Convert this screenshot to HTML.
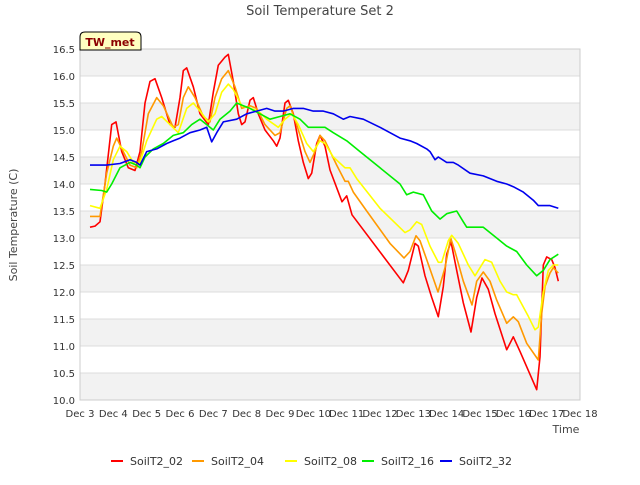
<!DOCTYPE html>
<html><head><meta charset="utf-8"><style>
body{margin:0;background:#fff;font-family:"Liberation Sans","DejaVu Sans",sans-serif}
svg text{font-family:"DejaVu Sans","Liberation Sans",sans-serif}
</style></head><body>
<svg id="chart" width="640" height="480" viewBox="0 0 640 480" xmlns="http://www.w3.org/2000/svg">
<rect width="640" height="480" fill="#fff"/>
<text x="320" y="15" text-anchor="middle" font-size="13" fill="#444">Soil Temperature Set 2</text>
<g id="plot"></g>
<text transform="translate(17,225) rotate(-90)" text-anchor="middle" font-size="11" fill="#444">Soil Temperature (C)</text>
<text x="566" y="433" text-anchor="middle" font-size="11" fill="#444">Time</text>
<g>
<path d="M80,50 L80,37 Q80,32 85,32 L136,32 Q141,32 141,37 L141,50 Z" fill="#ffffc0" stroke="#000" stroke-width="1"/>
<text x="110" y="46" text-anchor="middle" font-size="11" font-weight="bold" fill="#8b0000">TW_met</text>
</g>
<g id="legend"></g>
</svg>
<script>
const yTicks=[10.0,10.5,11.0,11.5,12.0,12.5,13.0,13.5,14.0,14.5,15.0,15.5,16.0,16.5];
const xTickLabels=["Dec 3","Dec 4","Dec 5","Dec 6","Dec 7","Dec 8","Dec 9","Dec 10","Dec 11","Dec 12","Dec 13","Dec 14","Dec 15","Dec 16","Dec 17","Dec 18"];
const seriesNames=["SoilT2_02","SoilT2_04","SoilT2_08","SoilT2_16","SoilT2_32"];
const seriesColors=["#ff0000","#ff9900","#ffff00","#00ee00","#0000ee"];
const s02=[[0.3,13.2],[0.45,13.22],[0.6,13.3],[0.75,14.0],[0.95,15.1],[1.08,15.15],[1.25,14.6],[1.45,14.3],[1.65,14.25],[1.8,14.6],[1.95,15.5],[2.1,15.9],[2.25,15.95],[2.45,15.6],[2.7,15.1],[2.85,15.05],[3.0,15.6],[3.1,16.1],[3.2,16.15],[3.4,15.8],[3.6,15.3],[3.85,15.1],[4.0,15.7],[4.15,16.2],[4.35,16.35],[4.45,16.4],[4.6,15.9],[4.75,15.3],[4.85,15.1],[4.95,15.15],[5.1,15.55],[5.2,15.6],[5.35,15.3],[5.55,15.0],[5.8,14.8],[5.9,14.7],[6.0,14.85],[6.15,15.5],[6.25,15.55],[6.4,15.3],[6.55,14.8],[6.7,14.4],[6.85,14.1],[6.95,14.2],[7.1,14.75],[7.2,14.9],[7.35,14.7],[7.5,14.26],[7.86,13.67],[8.0,13.78],[8.16,13.43],[9.7,12.17],[9.85,12.4],[10.05,12.9],[10.15,12.85],[10.35,12.3],[10.55,11.9],[10.75,11.54],[10.9,12.1],[11.0,12.7],[11.13,12.93],[11.3,12.4],[11.5,11.8],[11.73,11.26],[11.9,11.9],[12.06,12.26],[12.25,12.05],[12.45,11.6],[12.8,10.93],[13.0,11.17],[13.2,10.9],[13.7,10.19],[13.8,10.8],[13.9,12.5],[14.0,12.65],[14.15,12.6],[14.25,12.45],[14.35,12.2]];
const s04=[[0.3,13.4],[0.6,13.4],[0.8,14.2],[1.0,14.7],[1.1,14.85],[1.3,14.6],[1.5,14.35],[1.7,14.3],[1.85,14.6],[2.05,15.3],[2.3,15.6],[2.5,15.45],[2.8,15.05],[2.95,15.1],[3.1,15.6],[3.25,15.8],[3.45,15.6],[3.7,15.25],[3.9,15.15],[4.05,15.6],[4.25,15.95],[4.45,16.1],[4.65,15.8],[4.85,15.4],[5.1,15.45],[5.3,15.4],[5.55,15.1],[5.85,14.9],[6.0,14.95],[6.2,15.4],[6.3,15.45],[6.5,15.1],[6.75,14.6],[6.9,14.4],[7.05,14.6],[7.2,14.9],[7.35,14.8],[7.7,14.35],[7.95,14.05],[8.05,14.05],[8.2,13.85],[8.6,13.5],[9.3,12.9],[9.72,12.63],[9.9,12.75],[10.08,13.04],[10.2,12.95],[10.4,12.6],[10.74,12.0],[10.95,12.45],[11.12,13.0],[11.25,12.75],[11.5,12.2],[11.76,11.76],[11.9,12.2],[12.1,12.37],[12.3,12.2],[12.5,11.85],[12.8,11.42],[13.0,11.54],[13.15,11.45],[13.4,11.05],[13.75,10.74],[13.85,11.6],[13.95,12.1],[14.1,12.35],[14.2,12.45],[14.35,12.35]];
const s08=[[0.3,13.6],[0.6,13.55],[0.8,13.9],[1.0,14.45],[1.2,14.7],[1.4,14.6],[1.6,14.4],[1.8,14.4],[2.0,14.8],[2.3,15.2],[2.45,15.25],[2.7,15.1],[2.95,14.95],[3.2,15.4],[3.4,15.5],[3.6,15.35],[3.85,15.15],[4.05,15.3],[4.25,15.7],[4.45,15.85],[4.6,15.75],[4.85,15.45],[5.1,15.4],[5.35,15.35],[5.6,15.2],[5.95,15.05],[6.15,15.2],[6.35,15.3],[6.55,15.1],[6.8,14.75],[7.0,14.6],[7.2,14.8],[7.35,14.75],[7.6,14.5],[7.95,14.3],[8.1,14.3],[8.3,14.1],[9.0,13.55],[9.75,13.1],[9.9,13.15],[10.1,13.3],[10.25,13.25],[10.5,12.85],[10.75,12.55],[10.85,12.55],[11.05,12.95],[11.15,13.05],[11.35,12.9],[11.65,12.5],[11.85,12.3],[12.0,12.45],[12.15,12.6],[12.35,12.55],[12.6,12.2],[12.8,12.0],[13.0,11.95],[13.1,11.95],[13.45,11.55],[13.65,11.3],[13.75,11.35],[13.9,12.0],[14.05,12.4],[14.2,12.5],[14.35,12.5]];
const s16=[[0.3,13.9],[0.65,13.88],[0.8,13.85],[0.95,14.0],[1.2,14.3],[1.5,14.4],[1.7,14.35],[1.8,14.3],[1.95,14.5],[2.2,14.65],[2.5,14.75],[2.8,14.9],[3.1,14.95],[3.35,15.1],[3.6,15.2],[3.8,15.1],[4.0,15.0],[4.2,15.2],[4.5,15.35],[4.7,15.5],[4.9,15.45],[5.1,15.4],[5.4,15.3],[5.7,15.2],[6.0,15.25],[6.3,15.3],[6.6,15.2],[6.85,15.05],[7.1,15.05],[7.35,15.05],[7.6,14.95],[8.0,14.8],[8.4,14.6],[9.0,14.3],[9.6,14.0],[9.8,13.8],[10.0,13.85],[10.3,13.8],[10.55,13.5],[10.8,13.35],[11.0,13.45],[11.3,13.5],[11.5,13.3],[11.6,13.2],[12.1,13.2],[12.5,13.0],[12.8,12.85],[13.1,12.75],[13.4,12.5],[13.7,12.3],[13.9,12.4],[14.1,12.6],[14.35,12.7]];
const s32=[[0.3,14.35],[0.8,14.35],[1.2,14.38],[1.5,14.45],[1.7,14.4],[1.8,14.35],[2.0,14.6],[2.3,14.65],[2.6,14.75],[2.8,14.8],[3.0,14.85],[3.3,14.95],[3.6,15.0],[3.8,15.05],[3.95,14.78],[4.1,14.95],[4.3,15.15],[4.7,15.2],[5.0,15.3],[5.3,15.35],[5.6,15.4],[5.85,15.35],[6.1,15.35],[6.4,15.4],[6.7,15.4],[7.0,15.35],[7.3,15.35],[7.6,15.3],[7.9,15.2],[8.1,15.25],[8.5,15.2],[9.0,15.05],[9.6,14.85],[9.9,14.8],[10.1,14.75],[10.4,14.65],[10.5,14.6],[10.65,14.45],[10.75,14.5],[11.0,14.4],[11.2,14.4],[11.35,14.35],[11.7,14.2],[12.1,14.15],[12.5,14.05],[12.8,14.0],[13.0,13.95],[13.3,13.85],[13.6,13.7],[13.75,13.6],[13.9,13.6],[14.1,13.6],[14.35,13.55]];
const allSeries=[s02,s04,s08,s16,s32];

const NS="http://www.w3.org/2000/svg";
const L=80,R=580,T=49,B=400,ymin=10,ymax=16.5,xmax=15;
const xs=d=>L+d*(R-L)/xmax;
const ys=v=>B-(v-ymin)*(B-T)/(ymax-ymin);
const plot=document.getElementById('plot');
function mk(tag,attrs,parent){const e=document.createElementNS(NS,tag);for(const k in attrs)e.setAttribute(k,attrs[k]);parent.appendChild(e);return e;}
for(let i=0;i<yTicks.length-1;i++){
  if(i%2===0){const b=mk('rect',{x:L,y:ys(yTicks[i+1]),width:R-L,height:ys(yTicks[i])-ys(yTicks[i+1]),fill:'#f2f2f2'},plot);
  
  }
}
yTicks.forEach(v=>{
  const g=mk('line',{x1:L,x2:R,y1:ys(v),y2:ys(v),stroke:'#dcdcdc','stroke-width':1},plot);
  
  
  const t=mk('text',{x:L-5,y:ys(v)+4,'text-anchor':'end','font-size':10,fill:'#333'},plot);
  
  
  t.textContent=v.toFixed(1);
});
const fr=mk('rect',{x:L,y:T,width:R-L,height:B-T,fill:'none',stroke:'#ccc'},plot);


xTickLabels.forEach((lab,i)=>{
  const t=mk('text',{x:xs(i),y:B+17,'text-anchor':'middle','font-size':10,fill:'#333'},plot);
  
  
  t.textContent=lab;
});
allSeries.forEach((s,i)=>{
  const p=mk('polyline',{points:s.map(q=>xs(q[0]).toFixed(1)+','+ys(q[1]).toFixed(1)).join(' '),fill:'none',stroke:seriesColors[i],'stroke-width':1.6,'stroke-linejoin':'round'},plot);
  
  
});
const leg=document.getElementById('legend');
const lx=[111,192,285,362,440];
seriesNames.forEach((n,i)=>{
  const g=mk('g',{},leg);
  
  
  mk('line',{x1:lx[i],x2:lx[i]+12,y1:461,y2:461,stroke:seriesColors[i],'stroke-width':2},g);
  const t=mk('text',{x:lx[i]+19,y:465,'font-size':11,fill:'#333'},g);
  t.textContent=n;
});
</script>
</body></html>
